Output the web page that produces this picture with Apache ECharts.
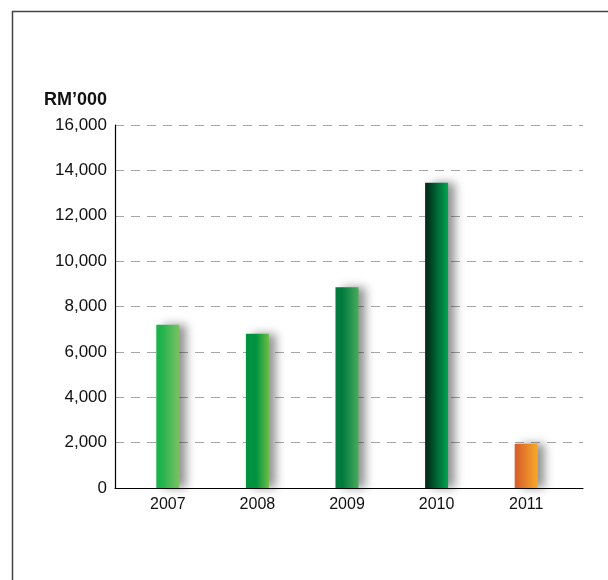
<!DOCTYPE html>
<html>
<head>
<meta charset="utf-8">
<style>
  html, body { margin: 0; padding: 0; background: #fff; }
  #chart { width: 608px; height: 580px; }
</style>
<script src="https://cdn.jsdelivr.net/npm/echarts@6/dist/echarts.min.js"></script>
</head>
<body>
<div id="chart"></div>
<script>
// Yearly figures in RM'000
const years = ['2007', '2008', '2009', '2010', '2011'];
const values = [7200, 6800, 8850, 13450, 1950];
const yTicks = { min: 0, max: 16000, step: 2000 };
const unitLabel = 'RM\u2019000';

// Horizontal gradient per bar: [left colour, mid stop, right colour]
const barColours = [
  ['#1db24b', 0.2, '#7cc163'],
  ['#00933f', 0.45, '#6cbe45'],
  ['#007b3e', 0.3, '#48ab5c'],
  ['#00301c', 0.1, '#00a651'],
  ['#d9622b', 0.1, '#f7a928']
];

function gradient(c) {
  return new echarts.graphic.LinearGradient(0, 0, 1, 0, [
    { offset: 0, color: c[0] },
    { offset: c[1], color: c[0] },
    { offset: 1, color: c[2] }
  ]);
}

const chart = echarts.init(document.getElementById('chart'), null, { renderer: 'canvas' });

const plotTop = 125, plotBottom = 92;
const font = '"Liberation Sans", Arial, sans-serif';

chart.setOption({
  animation: false,
  backgroundColor: '#fff',
  graphic: [
    { type: 'line', shape: { x1: 12, y1: 11.5, x2: 608, y2: 11.5 }, style: { stroke: '#444', lineWidth: 1.5 } },
    { type: 'line', shape: { x1: 12.5, y1: 11, x2: 12.5, y2: 580 }, style: { stroke: '#444', lineWidth: 1.5 } }
  ],
  grid: [
    { left: 115, right: 25, top: plotTop, bottom: plotBottom },
    { left: 123, right: 37, top: plotTop, bottom: plotBottom }
  ],
  xAxis: [
    {
      gridIndex: 0, type: 'value', min: 0, max: 1,
      axisLine: { show: true, onZero: false, lineStyle: { color: '#000', width: 1.2 } },
      axisTick: { show: false }, axisLabel: { show: false }, splitLine: { show: false }
    },
    {
      gridIndex: 1, type: 'category', data: years,
      axisLine: { show: false }, axisTick: { show: false },
      axisLabel: { margin: 9, fontSize: 16, color: '#111', fontFamily: font }
    }
  ],
  yAxis: [
    {
      gridIndex: 0, type: 'value', min: yTicks.min, max: yTicks.max, interval: yTicks.step,
      name: unitLabel, nameLocation: 'end', nameGap: 25,
      nameTextStyle: {
        align: 'right', verticalAlign: 'middle', padding: [0, 8, 0, 0],
        fontSize: 18, fontWeight: 'bold', color: '#111', fontFamily: font
      },
      axisLine: { show: true, lineStyle: { color: '#000', width: 1.2 } },
      axisTick: { show: false },
      axisLabel: {
        margin: 8, fontSize: 17, color: '#111', fontFamily: font,
        formatter: v => v.toLocaleString('en-US')
      },
      splitLine: { show: true, lineStyle: { color: '#a6a6a6', type: [9, 7], width: 1 } }
    },
    {
      gridIndex: 1, type: 'value', min: yTicks.min, max: yTicks.max,
      show: false, splitLine: { show: false }
    }
  ],
  series: [{
    type: 'bar',
    xAxisIndex: 1, yAxisIndex: 1,
    barWidth: 23,
    data: values.map((v, i) => ({
      value: v,
      itemStyle: {
        color: gradient(barColours[i]),
        shadowColor: 'rgba(0,0,0,0.42)',
        shadowBlur: 10,
        shadowOffsetX: 7,
        shadowOffsetY: 0
      }
    }))
  }]
});
</script>
</body>
</html>
